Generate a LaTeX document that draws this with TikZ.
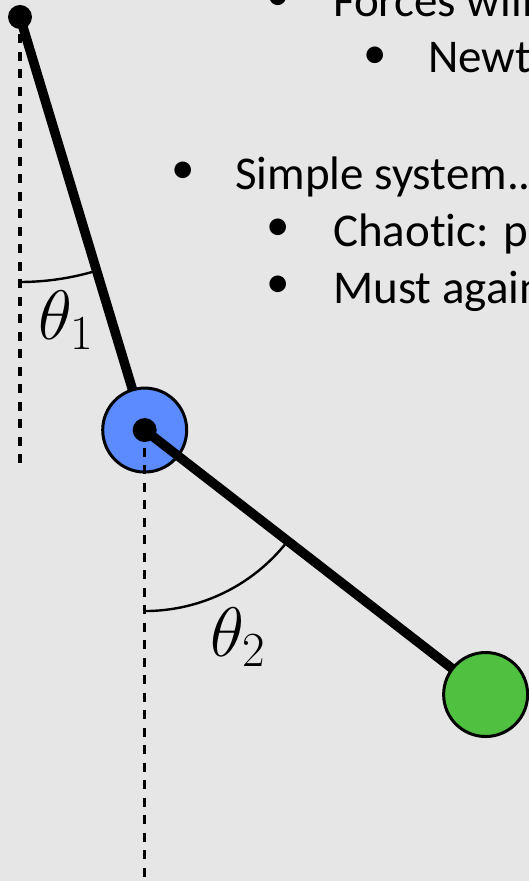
\documentclass[tikz,border=0pt]{standalone}
\usepackage{fix-cm}
\usepackage[no-math]{fontspec}
\setmainfont{Carlito}[Ligatures=NoCommon]
\usepackage{amsmath}
\definecolor{slidebg}{HTML}{E6E6E6}
\definecolor{massblue}{HTML}{5B8BFF}
\definecolor{massgreen}{HTML}{50C040}
\tikzset{
  rod/.style={line width=9.5pt},
  vline/.style={line width=3.2pt,dash pattern=on 9pt off 8.5pt},
  anglearc/.style={line width=2.4pt},
  pin/.style={circle,fill=black,inner sep=0pt,minimum size=24pt},
  bob/.style={circle,draw=black,line width=3pt,inner sep=0pt,minimum size=84pt},
  angtxt/.style={inner sep=0pt,font=\fontsize{70}{80}\selectfont},
  slidetxt/.style={anchor=base west,inner sep=0pt,font=\fontsize{47}{56}\selectfont},
  bul/.style={inner sep=0pt,font=\fontsize{47}{56}\selectfont}
}
\newcommand{\rodlen}{431.5}

\begin{document}
\begin{tikzpicture}[x=1pt,y=1pt]
  \fill[slidebg] (0,0) rectangle (529,881);
  \clip (0,0) rectangle (529,881);
  \coordinate (pivot) at (20,864);
  \path (pivot) ++(-73.2:\rodlen) coordinate (m1) ++(-37.8:\rodlen) coordinate (m2);
  \path (pivot) ++(0,-448) coordinate (vone);
  \path (m1) ++(0,-470) coordinate (vtwo);
  \draw[vline] (pivot) -- (vone);
  \draw[anglearc] (pivot) ++(0,-265) arc[start angle=270,end angle=286.8,radius=265];
  \draw[rod] (pivot) -- (m1);
  \node[bob,fill=massblue] (bobone) at (m1) {};
  \draw[vline] (bobone.center) -- (vtwo);
  \draw[anglearc] (m1) ++(0,-181) arc[start angle=270,end angle=322.2,radius=181];
  \draw[rod] (bobone.center) -- (m2);
  \node[pin] (pivotdot) at (pivot) {};
  \node[pin] (hinge) at (m1) {};
  \node[bob,fill=massgreen] (bobtwo) at (m2) {};
  \node[angtxt] (thone) at (66,561) {$\theta_1$};
  \node[angtxt] (thtwo) at (238,244) {$\theta_2$};
  \node[bul] (b1) at (278,881) {•};
  \node[slidetxt] (forces) at (333,864) {Forces will};
  \node[bul] (b2) at (375,823) {•};
  \node[slidetxt] (newton) at (428,808) {Newton};
  \node[bul] (b3) at (183,708) {•};
  \node[slidetxt] (simple) at (235,691) {Simple system...};
  \node[bul] (b4) at (278,651) {•};
  \node[slidetxt] (chaos) at (333,634) {Chaotic: pe};
  \node[bul] (b5) at (278,594) {•};
  \node[slidetxt] (again) at (333,577) {Must again};
\end{tikzpicture}
\end{document}
